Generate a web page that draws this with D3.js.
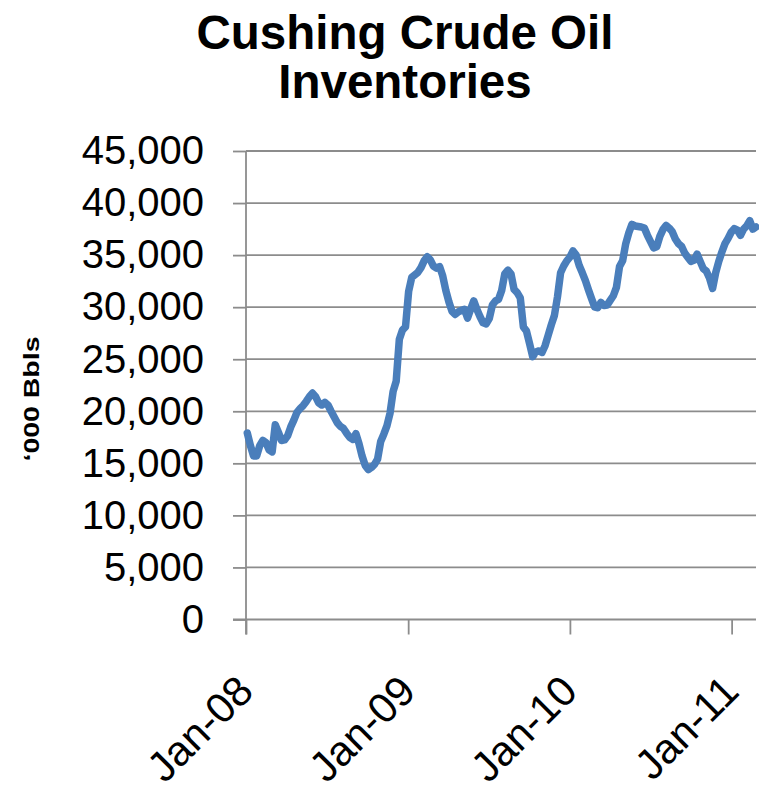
<!DOCTYPE html>
<html>
<head>
<meta charset="utf-8">
<script src="https://cdn.jsdelivr.net/npm/d3@7"></script>
<style>
    html, body { margin: 0; padding: 0; background: #fff; }
    svg { display: block; font-family: "Liberation Sans", Arial, sans-serif; }
</style>
</head>
<body>
<div id="chart"></div>
<script>
(function () {

    'use strict';

    // weekly stocks, '000 bbls, one value per friday starting 4 Jan 2008
    var firstWeek = '2008-01-04';

    var values2008 = [17900, 16700, 15700, 15700, 16700, 17200, 17000, 16300, 16100, 18700,
        18000, 17200, 17250, 17650, 18500, 19150, 19900, 20250, 20550, 20950,
        21400, 21750, 21400, 20800, 20600, 20850, 20600, 20000, 19450, 18900,
        18550, 18350, 17900, 17500, 17300, 17850, 16900, 15700, 14800, 14400,
        14600, 14900, 15400, 17100, 17800, 18600, 19800, 21900, 22900, 26900,
        27800, 28100];

    var values2009 = [31500, 32850, 33100, 33350, 33800, 34450, 34850, 34550, 33950, 33750,
        33900, 33000, 31600, 30500, 29600, 29300, 29550, 29700, 29800, 28950,
        29800, 30600, 29800, 29100, 28500, 28400, 28900, 30200, 30600, 30750,
        31600, 33200, 33550, 33200, 31700, 31400, 30900, 28100, 27700, 26500,
        25250, 25700, 25800, 25650, 26300, 27300, 28300, 29200, 31000, 33300,
        33950, 34450];

    var values2010 = [34800, 35400, 35000, 34000, 33300, 32550, 31650, 30800, 30000, 29950,
        30450, 30150, 30200, 30650, 31100, 31900, 33900, 34450, 36100, 37150,
        37950, 37800, 37750, 37700, 37600, 36900, 36300, 35700, 35800, 36800,
        37450, 37850, 37600, 37250, 36550, 36100, 35850, 35200, 34800, 34400,
        34500, 35100, 34400, 33700, 33450, 32800, 31800, 33300, 34400, 35300,
        36100, 36600, 37200];

    var values2011 = [37550, 37400, 36900, 37500, 37800, 38300, 37500, 37700];

    var yTicks = [0, 5000, 10000, 15000, 20000, 25000, 30000, 35000, 40000, 45000];
    var xTickLabels = ['2008-01-01', '2009-01-01', '2010-01-01', '2011-01-01'];

    var titleLines = ['Cushing Crude Oil', 'Inventories'];
    var yAxisTitle = '\u2018000 Bbls';


    var width = 759;
    var height = 794;

    var plot = {left: 246, right: 756, top: 151, bottom: 619.5};

    var axisColor = '#8c8c8c';

    var parseDate = d3.timeParse('%Y-%m-%d');

    var allValues = values2008.concat(values2009, values2010, values2011);
    var start = parseDate(firstWeek);

    var chartData = allValues.map(function (v, i) {
        return {date: d3.timeDay.offset(start, i * 7), value: v};
    });

    var lastDate = chartData[chartData.length - 1].date;

    var x = d3.scaleTime()
        .domain([parseDate('2008-01-01'), lastDate])
        .range([plot.left, plot.right]);

    var y = d3.scaleLinear()
        .domain([0, 45000])
        .range([plot.bottom, plot.top]);

    var svg = d3.select('#chart')
        .append('svg')
        .attr('width', width)
        .attr('height', height);

    // gridlines
    svg.append('g')
        .selectAll('line')
        .data(yTicks.filter(function (t) { return t > 0; }))
        .enter()
        .append('line')
        .attr('x1', plot.left)
        .attr('x2', plot.right)
        .attr('y1', function (d) { return y(d); })
        .attr('y2', function (d) { return y(d); })
        .attr('stroke', axisColor)
        .attr('stroke-width', 1.8);

    // y axis
    var yAxis = d3.axisLeft(y)
        .tickValues(yTicks)
        .tickSize(13)
        .tickSizeOuter(0)
        .tickPadding(29)
        .tickFormat(d3.format(','));

    var yAxisG = svg.append('g')
        .attr('transform', 'translate(' + plot.left + ',0)')
        .call(yAxis);

    yAxisG.select('.domain')
        .attr('d', 'M0,' + plot.top + 'V' + (plot.bottom + 15));

    // x axis
    var xAxis = d3.axisBottom(x)
        .tickValues(xTickLabels.map(parseDate))
        .tickSize(15)
        .tickSizeOuter(0)
        .tickFormat(d3.timeFormat('%b-%y'));

    var xAxisG = svg.append('g')
        .attr('transform', 'translate(0,' + plot.bottom + ')')
        .call(xAxis);

    xAxisG.select('.domain')
        .attr('d', 'M' + (plot.left - 13) + ',0H' + plot.right);

    [yAxisG, xAxisG].forEach(function (g) {
        g.selectAll('.domain, .tick line')
            .attr('stroke', axisColor)
            .attr('stroke-width', 1.8);
        g.selectAll('.tick text')
            .attr('fill', '#000')
            .style('font-size', '40px')
            .style('font-family', '"Liberation Sans", Arial, sans-serif');
    });

    // rotated date labels, a bit larger than the value labels
    xAxisG.selectAll('.tick text')
        .attr('y', null)
        .attr('dy', null)
        .attr('text-anchor', 'end')
        .style('font-size', '42px')
        .attr('transform', 'translate(9,74) rotate(-45)');

    // the series line
    var line = d3.line()
        .x(function (d) { return x(d.date); })
        .y(function (d) { return y(d.value); });

    svg.append('path')
        .datum(chartData)
        .attr('d', line)
        .attr('fill', 'none')
        .attr('stroke', '#4a7ebb')
        .attr('stroke-width', 7.5)
        .attr('stroke-linejoin', 'round')
        .attr('stroke-linecap', 'round');

    // title
    svg.append('g')
        .selectAll('text')
        .data(titleLines)
        .enter()
        .append('text')
        .attr('x', 405)
        .attr('y', function (d, i) { return 49 + i * 49; })
        .attr('text-anchor', 'middle')
        .style('font-size', '47.5px')
        .style('font-weight', 'bold')
        .text(function (d) { return d; });

    // y axis title
    svg.append('text')
        .attr('transform', 'translate(39,399) rotate(-90)')
        .attr('text-anchor', 'middle')
        .attr('textLength', 125)
        .attr('lengthAdjust', 'spacingAndGlyphs')
        .style('font-size', '22px')
        .style('font-weight', 'bold')
        .text(yAxisTitle);

}());
</script>
</body>
</html>
